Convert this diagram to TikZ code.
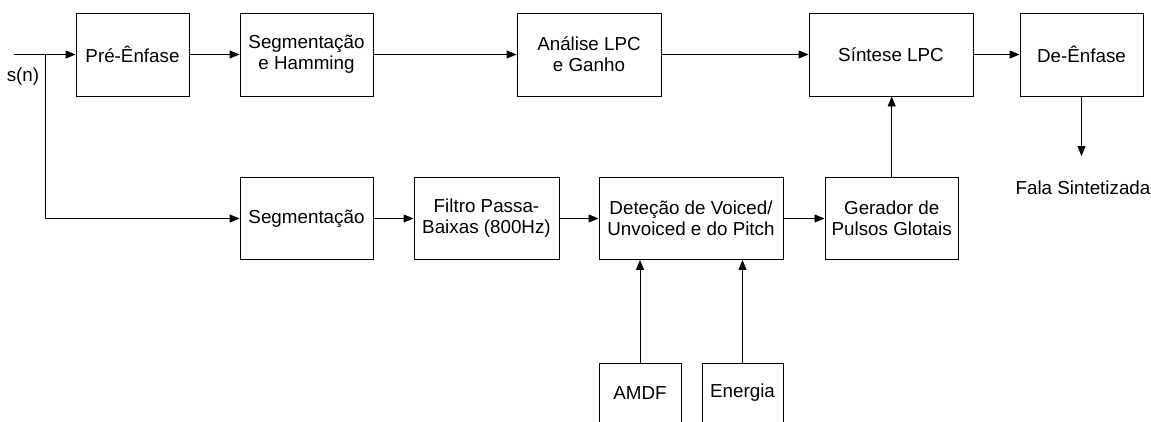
\documentclass[tikz,border=0pt]{standalone}
\usepackage{fontspec}
\setmainfont{Liberation Sans}
\usetikzlibrary{arrows.meta}
\begin{document}
\begin{tikzpicture}[x=1pt,y=-1pt,
  blk/.style={draw=black, line width=0.9pt, rectangle, align=center, inner sep=0pt,
    font=\fontsize{18.8}{20.8}\selectfont},
  lbl/.style={inner sep=0pt, align=center, font=\fontsize{18.8}{20.8}\selectfont},
  conn/.style={line width=0.9pt, -{Triangle[length=10pt,width=8pt]}},
  wire/.style={line width=0.9pt}]
\useasboundingbox (0,0) rectangle (1151,421);
\begin{scope}
\clip (0,0) rectangle (1151,421);
% top row
\node[blk, minimum width=113, minimum height=83] (pre) at (132.5,54.5) {Pré-Ênfase};
\node[blk, minimum width=133, minimum height=83] (seg1) at (306.5,54.5) {Segmentação\\e Hamming};
\node[blk, minimum width=144, minimum height=83] (anal) at (589,54.5) {Análise LPC\\e Ganho};
\node[blk, minimum width=164, minimum height=83] (sint) at (891,54.5) {Síntese LPC};
\node[blk, minimum width=123, minimum height=83] (deen) at (1081.5,54.5) {De-Ênfase};
% bottom row
\node[blk, minimum width=133, minimum height=82] (seg2) at (306.5,218.5) {Segmentação};
\node[blk, minimum width=145, minimum height=82] (filt) at (486.5,218.5) {Filtro Passa-\\Baixas (800Hz)};
\node[blk, minimum width=184, minimum height=82] (det) at (691,218.5) {Deteção de Voiced/\\Unvoiced e do Pitch};
\node[blk, minimum width=133.5, minimum height=82] (ger) at (891.7,218.5) {Gerador de\\Pulsos Glotais};
\node[blk, minimum width=82, minimum height=60] (amdf) at (640,393) {AMDF};
\node[blk, minimum width=81, minimum height=60] (ener) at (742.5,393) {Energia};
% labels
\node[lbl] (sn) at (23,77) {s(n)};
\node[lbl] (fala) at (1083,188) {Fala Sintetizada};
\coordinate (in) at (14,54.5);
\coordinate (br) at (45,54.5);
\coordinate (out) at (1081.5,156);
% connectors
\draw[conn] (in) -- (pre.west);
\draw[wire] (br) -- (br |- seg2.west);
\draw[conn] (br |- seg2.west) -- (seg2.west);
\draw[conn] (pre) -- (seg1);
\draw[conn] (seg1) -- (anal);
\draw[conn] (anal) -- (sint);
\draw[conn] (sint) -- (deen);
\draw[conn] (deen.south) -- (out);
\draw[conn] (seg2) -- (filt);
\draw[conn] (filt) -- (det);
\draw[conn] (det) -- (ger);
\draw[conn] (ger.north) -- (ger.north |- sint.south);
\draw[conn] (amdf.north) -- (amdf.north |- det.south);
\draw[conn] (ener.north) -- (ener.north |- det.south);
\end{scope}
\end{tikzpicture}
\end{document}
